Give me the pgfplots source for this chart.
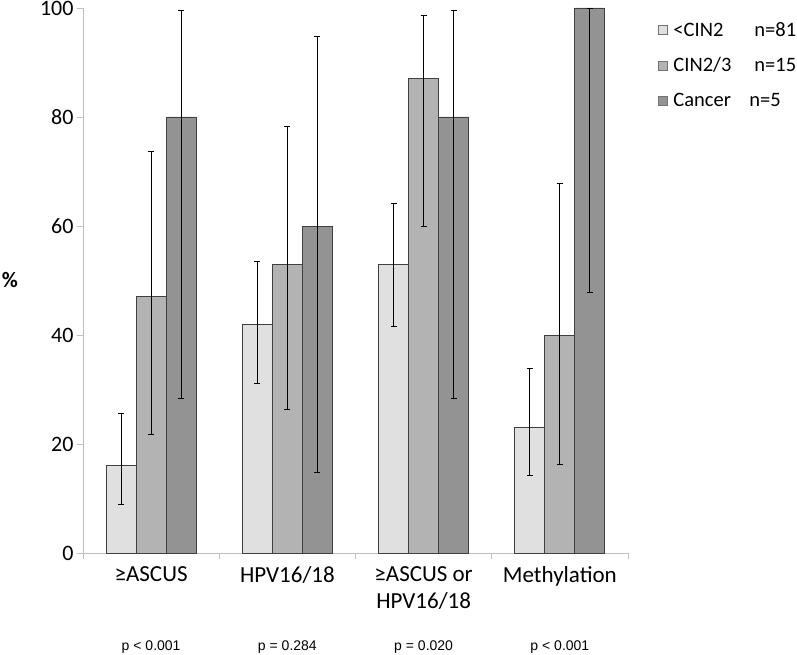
\documentclass[border=0pt]{standalone}
\usepackage{pgfplots}
\pgfplotsset{compat=1.18}
\usepackage{fontspec}
\setmainfont{Carlito}
\newfontfamily\arialfont{Liberation Sans}

\definecolor{cLow}{HTML}{E0E0E0}
\definecolor{cMid}{HTML}{B3B3B3}
\definecolor{cHigh}{HTML}{939393}
\definecolor{axgray}{HTML}{BFBFBF}

\begin{document}
\begin{tikzpicture}
\begin{axis}[
  scale only axis, width=545pt, height=545pt,
  ybar=0pt, bar width=30pt,
  xmin=-0.5, xmax=3.5, ymin=0, ymax=100,
  ytick={0,20,...,100},
  xtick={0,1,2,3},
  xticklabels={{≥ASCUS},{HPV16/18},{≥ASCUS or\\HPV16/18},{Methylation}},
  minor xtick={-0.5,0.5,1.5,2.5,3.5},
  major x tick style={draw=none},
  minor x tick style={draw=axgray, line width=0.8pt},
  ytick style={draw=axgray, line width=0.8pt},
  major tick length=6pt, minor tick length=6pt,
  tick align=outside,
  axis x line*=bottom, axis y line*=left,
  axis line style={draw=axgray, line width=0.8pt},
  /pgf/number format/assume math mode=true,
  tick label style={font=\fontsize{22pt}{27pt}\selectfont},
  xticklabel style={align=center, yshift=-4pt, font=\fontsize{23pt}{27pt}\selectfont},
  every axis y label/.style={at={(rel axis cs:0,0.5)}, anchor=center, xshift=-73pt},
  ylabel={\fontsize{22pt}{27pt}\selectfont\bfseries \%},
  error bars/y dir=both, error bars/y explicit,
  error bars/error bar style={black, line width=0.8pt},
  error bars/error mark options={rotate=90, mark size=3pt, black, line width=0.8pt},
  legend style={at={(rel axis cs:1.0495,0.982)}, anchor=north west, draw=none, fill=none,
    font=\fontsize{20.5pt}{25pt}\selectfont, row sep=16pt},
  legend cell align=left,
  legend image code/.code={\draw[#1, draw=black!55, line width=0.6pt] (0pt,-4.5pt) rectangle (9pt,4.5pt); \path[draw=none, fill=none] (0pt,0pt) -- (13pt,0pt);},
  clip=false,
]
\addplot[fill=cLow, draw=black!75, line width=0.8pt] coordinates {
  (0,16) += (0,9.7) -= (0,7.1)
  (1,42) += (0,11.5) -= (0,10.8)
  (2,53) += (0,11.2) -= (0,11.4)
  (3,23) += (0,10.8) -= (0,8.7)
};
\addplot[fill=cMid, draw=black!75, line width=0.8pt] coordinates {
  (0,47) += (0,26.7) -= (0,25.3)
  (1,53) += (0,25.3) -= (0,26.6)
  (2,87) += (0,11.6) -= (0,27.1)
  (3,40) += (0,27.8) -= (0,23.7)
};
\addplot[fill=cHigh, draw=black!75, line width=0.8pt] coordinates {
  (0,80) += (0,19.5) -= (0,51.6)
  (1,60) += (0,34.7) -= (0,45.2)
  (2,80) += (0,19.5) -= (0,51.6)
  (3,100) += (0,0) -= (0,52.2)
};
\legend{{\makebox[81pt][l]{<CIN2}n=81},{\makebox[81pt][l]{CIN2/3}n=15},{\makebox[76pt][l]{Cancer}n=5}}
\node[font=\arialfont\fontsize{14pt}{16pt}\selectfont] at (axis cs:0,0) [yshift=-94pt] {p < 0.001};
\node[font=\arialfont\fontsize{14pt}{16pt}\selectfont] at (axis cs:1,0) [yshift=-94pt] {p = 0.284};
\node[font=\arialfont\fontsize{14pt}{16pt}\selectfont] at (axis cs:2,0) [yshift=-94pt] {p = 0.020};
\node[font=\arialfont\fontsize{14pt}{16pt}\selectfont] at (axis cs:3,0) [yshift=-94pt] {p < 0.001};
\end{axis}
\pgfresetboundingbox
\useasboundingbox (-83pt,-101pt) rectangle (714pt,553pt);
\end{tikzpicture}
\end{document}
